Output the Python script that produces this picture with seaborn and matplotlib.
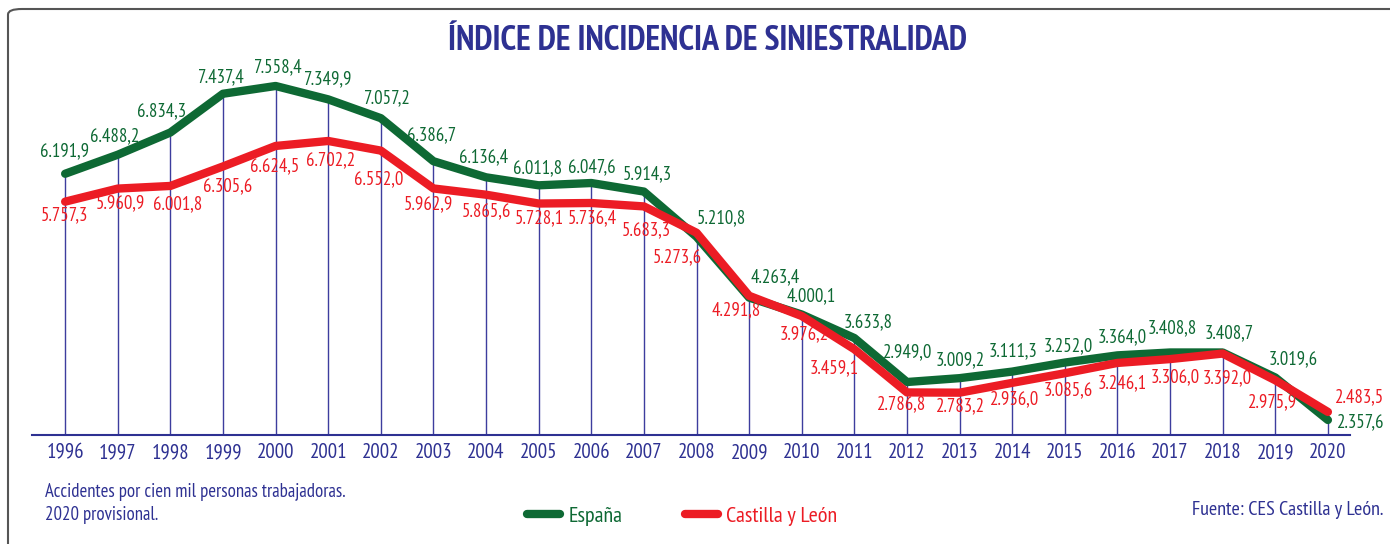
import matplotlib
matplotlib.use("Agg")
import matplotlib.pyplot as plt
import seaborn as sns
import pandas as pd
import numpy as np
from matplotlib.lines import Line2D
from matplotlib.patches import FancyBboxPatch

years = [1996, 1997, 1998, 1999, 2000, 2001, 2002, 2003, 2004, 2005, 2006, 2007, 2008,
         2009, 2010, 2011, 2012, 2013, 2014, 2015, 2016, 2017, 2018, 2019, 2020]
espana = [6191.9, 6488.2, 6834.3, 7437.4, 7558.4, 7349.9, 7057.2, 6386.7, 6136.4, 6011.8,
          6047.6, 5914.3, 5210.8, 4263.4, 4000.1, 3633.8, 2949.0, 3009.2, 3111.3, 3252.0,
          3364.0, 3408.8, 3408.7, 3019.6, 2357.6]
cyl = [5757.3, 5960.9, 6001.8, 6305.6, 6624.5, 6702.2, 6552.0, 5962.9, 5865.6, 5728.1,
       5736.4, 5683.3, 5273.6, 4291.8, 3976.2, 3459.1, 2786.8, 2783.2, 2936.0, 3085.6,
       3246.1, 3306.0, 3392.0, 2975.9, 2483.5]
series_names = ["España", "Castilla y León"]
title = "ÍNDICE DE INCIDENCIA DE SINIESTRALIDAD"
note1 = "Accidentes por cien mil personas trabajadoras."
note2 = "2020 provisional."
source = "Fuente: CES Castilla y León."

# label offsets in pixels (dx, dy; dy positive = up)
esp_off = [(-1, 23), (-3, 18), (-9, 21), (-2, 17), (2, 19), (0, 20), (6, 20), (-2, 26),
           (-3, 20), (-1, 17), (1, 16), (3, 17), (25, 19), (26, 20), (9, 18), (14, 16),
           (1, 30), (1, 18), (1, 20), (3, 16), (5, 18), (2, 24), (7, 19), (18, 18), (33, -2)]
cyl_off = [(-1, -14), (3, -15), (7, -18), (5, -20), (-1, -20), (2, -19), (-2, -29), (-5, -16),
           (0, -17), (1, -15), (1, -15), (2, -24), (-19, -24), (-13, -14), (2, -18), (-20, -19),
           (-5, -12), (1, -14), (2, -16), (3, -17), (5, -20), (5, -18), (5, -25), (-3, -22),
           (32, 15)]

sns.set_theme(style="white")
FAMILY = ['PT Sans Narrow', 'Roboto Condensed', 'DejaVu Sans']
plt.rcParams['font.family'] = FAMILY

GREEN = "#0e6934"
RED = "#ec1c24"
NAVY = "#2e3192"
VLINE = "#3d3d9e"

def fmt(v):
    s = f"{v:,.1f}"
    return s.replace(",", "X").replace(".", ",").replace("X", ".")

fig = plt.figure(figsize=(13.9, 5.44), dpi=100)
ax = fig.add_axes([32/1390, (544-435)/544, (1350-32)/1390, (435-60)/544])
ax.patch.set_alpha(0)

df = pd.DataFrame({"year": years * 2,
                   "value": espana + cyl,
                   "serie": [series_names[0]] * len(years) + [series_names[1]] * len(years)})

ymin, ymax = 2124, 7963
ax.vlines(years, ymin, np.maximum(espana, cyl), color=VLINE, lw=1.0, zorder=1)

sns.lineplot(data=df[df.serie == series_names[0]], x="year", y="value", color=GREEN,
             lw=6, ax=ax, legend=False, zorder=3, solid_joinstyle="round", solid_capstyle="round")
sns.lineplot(data=df[df.serie == series_names[1]], x="year", y="value", color=RED,
             lw=6, ax=ax, legend=False, zorder=4, solid_joinstyle="round", solid_capstyle="round")

ax.set_xlim(1995.37, 2020.42)
ax.set_ylim(ymin, ymax)
for s in ["top", "right", "left"]:
    ax.spines[s].set_visible(False)
ax.spines["bottom"].set_color(NAVY)
ax.spines["bottom"].set_linewidth(1.5)
ax.set_yticks([])
ax.set_xticks(years)
ax.set_xticklabels([str(y) for y in years], color=NAVY, fontsize=15)
ax.tick_params(axis="x", length=0, pad=6)
ax.set_xlabel("")
ax.set_ylabel("")

for x, v, (dx, dy) in zip(years, espana, esp_off):
    ax.annotate(fmt(v), (x, v), xytext=(dx, dy), textcoords="offset pixels",
                ha="center", va="center", color=GREEN, fontsize=13.5, zorder=5,
                annotation_clip=False)
for x, v, (dx, dy) in zip(years, cyl, cyl_off):
    ax.annotate(fmt(v), (x, v), xytext=(dx, dy), textcoords="offset pixels",
                ha="center", va="center", color=RED, fontsize=13.5, zorder=5,
                annotation_clip=False)

fig.text(707/1390, 1-41/544, title, ha="center", va="center", color=NAVY,
         fontsize=24.5, fontweight="bold")
fig.text(45/1390, 1-492/544, note1, ha="left", va="center", color=NAVY, fontsize=13.5)
fig.text(45/1390, 1-515/544, note2, ha="left", va="center", color=NAVY, fontsize=13.5)
fig.text(1383/1390, 1-510/544, source, ha="right", va="center", color=NAVY, fontsize=14.5)

handles = [Line2D([0], [0], color=GREEN, lw=6, solid_capstyle="round"),
           Line2D([0], [0], color=RED, lw=6, solid_capstyle="round")]
leg = fig.legend(handles, series_names, loc="center", bbox_to_anchor=(682/1390, 1-516/544),
                 ncol=2, frameon=False, fontsize=16, handlelength=1.5, handletextpad=0.37,
                 columnspacing=2.8)
for t, c in zip(leg.get_texts(), [GREEN, RED]):
    t.set_color(c)

frame = FancyBboxPatch((8/1390, -0.2), 1.2, 1 - 9/544 + 0.2, boxstyle="round,pad=0,rounding_size=0.01",
                       transform=fig.transFigure, fill=False, edgecolor="#555555", lw=1.5,
                       zorder=0)
fig.add_artist(frame)

fig.savefig("out.png", dpi=100)
